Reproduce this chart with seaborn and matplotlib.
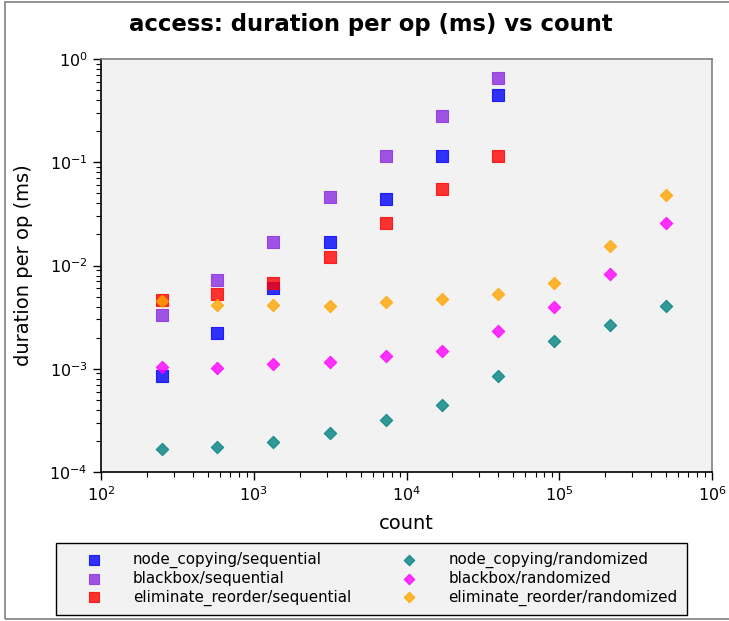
import numpy as np
import pandas as pd
import matplotlib
matplotlib.use("Agg")
import matplotlib.pyplot as plt
from matplotlib.patches import Rectangle
import seaborn as sns

counts_seq = [250, 575, 1330, 3150, 7350, 17100, 40000]
counts_rand = [250, 575, 1330, 3150, 7350, 17100, 40000, 92000, 214000, 500000]

node_copying_seq = [8.6e-4, 2.2e-3, 6.0e-3, 0.0169, 0.0438, 0.115, 0.448]
blackbox_seq = [3.3e-3, 7.2e-3, 0.0170, 0.046, 0.116, 0.279, 0.659]
eliminate_reorder_seq = [4.6e-3, 5.3e-3, 6.7e-3, 0.0120, 0.0258, 0.0547, 0.116]
node_copying_rand = [1.68e-4, 1.73e-4, 1.97e-4, 2.41e-4, 3.16e-4, 4.43e-4, 8.6e-4, 1.86e-3, 2.65e-3, 4.08e-3]
blackbox_rand = [1.04e-3, 1.02e-3, 1.10e-3, 1.15e-3, 1.33e-3, 1.49e-3, 2.32e-3, 3.96e-3, 8.2e-3, 0.0256]
eliminate_reorder_rand = [4.5e-3, 4.17e-3, 4.17e-3, 4.08e-3, 4.40e-3, 4.70e-3, 5.30e-3, 6.8e-3, 0.0153, 0.0482]

series = [
    ("node_copying/sequential", counts_seq, node_copying_seq, "#0000ff", "s"),
    ("blackbox/sequential", counts_seq, blackbox_seq, "#8a2be2", "s"),
    ("eliminate_reorder/sequential", counts_seq, eliminate_reorder_seq, "#ff0000", "s"),
    ("node_copying/randomized", counts_rand, node_copying_rand, "#008080", "D"),
    ("blackbox/randomized", counts_rand, blackbox_rand, "#ff00ff", "D"),
    ("eliminate_reorder/randomized", counts_rand, eliminate_reorder_rand, "#ffa500", "D"),
]

fig = plt.figure(figsize=(7.29, 6.21), dpi=100)
ax = fig.add_axes([101/729, 1-472/621, (712-101)/729, (472-59)/621])
ax.set_facecolor("#f2f2f2")

for name, xs, ys, col, mk in series:
    df = pd.DataFrame({"count": xs, "duration": ys})
    size = 68 if mk == "s" else 40
    sns.scatterplot(data=df, x="count", y="duration", ax=ax, color=col, marker=mk,
                    s=size, alpha=0.8, edgecolor=col, linewidth=0.8, label=name, zorder=3)

ax.set_xscale("log")
ax.set_yscale("log")
ax.set_xlim(1e2, 1e6)
ax.set_ylim(1e-4, 1e0)
ax.grid(False)
fig.suptitle("access: duration per op (ms) vs count", fontsize=16.4, fontweight="bold",
             x=371/729, y=1-24/621, va="center", ha="center")
ax.set_xlabel("count", fontsize=14, labelpad=7.5)
ax.set_ylabel("duration per op (ms)", fontsize=14, labelpad=12)
ax.tick_params(axis="both", which="major", labelsize=11.5, direction="out", length=6, width=1, color="black")
ax.tick_params(axis="both", which="minor", direction="out", length=3.5, width=0.8, color="black")
ax.tick_params(top=False, right=False, which="both")
for side in ["left", "bottom"]:
    ax.spines[side].set_color("black")
    ax.spines[side].set_linewidth(1.2)
for side in ["top", "right"]:
    ax.spines[side].set_color("#808080")
    ax.spines[side].set_linewidth(1.2)

handles, labels = ax.get_legend_handles_labels()
if ax.get_legend():
    ax.get_legend().remove()
leg = fig.legend(handles, labels, ncol=2, loc="upper left",
                 bbox_to_anchor=(56/729, 1-543/621),
                 borderaxespad=0, fontsize=10.9, frameon=True, fancybox=False,
                 facecolor="#f2f2f2", edgecolor="black", framealpha=1,
                 handletextpad=0.67, labelspacing=0.2, borderpad=0.6, handlelength=3.82,
                 columnspacing=1.92, markerscale=0.85)
leg.get_frame().set_linewidth(1.0)

fig.patches.append(Rectangle((5/729, 2/621), 1.0, 617/621, transform=fig.transFigure,
                             fill=False, edgecolor="#808080", linewidth=1.2, figure=fig))

fig.savefig("out.png", dpi=100)
